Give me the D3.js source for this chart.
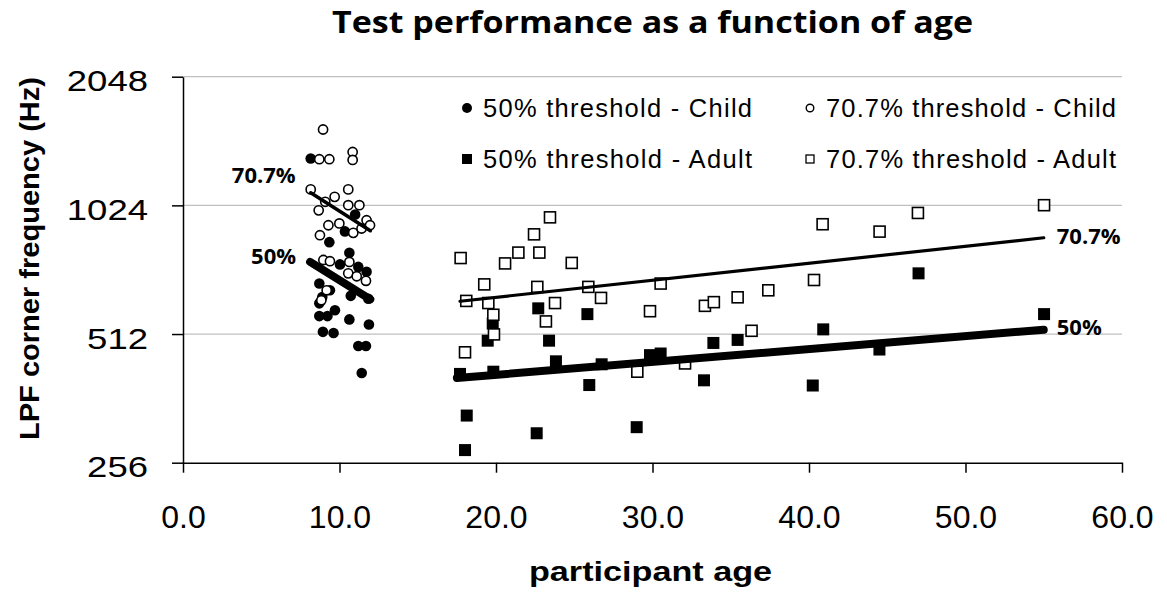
<!DOCTYPE html>
<html>
<head>
<meta charset="utf-8">
<script src="https://cdn.jsdelivr.net/npm/d3@7"></script>
<style>
  body { margin: 0; background: #fff; }
  svg text { fill: #000; }
</style>
</head>
<body>
<div id="chart"></div>
<script>
// data: [age, LPF corner frequency Hz]
const child50 = [
  [8.16,1318],[9.35,840],[10.63,793],[10.03,745],[11.73,716],[8.71,672],[9.39,648],
  [10.72,629],[11.84,619],[8.71,604],[9.71,582],[8.71,564],[9.23,564],[10.63,554],
  [11.88,539],[8.94,518],[9.62,515],[11.2,480],[11.69,480],[11.42,415],[11.0,975],
  [10.35,890],[11.2,735],[8.9,625]
];
const child707 = [
  [8.95,1541],[8.71,1313],[9.35,1313],[10.84,1365],[10.84,1308],[8.16,1116],[10.56,1116],
  [9.69,1072],[9.09,1044],[10.56,1025],[11.27,1025],[8.67,997],[11.73,945],[11.95,920],
  [9.29,920],[9.99,929],[10.88,883],[11.41,904],[8.75,872],[8.97,763],[9.39,758],
  [10.63,755],[10.56,710],[11.1,699],[11.69,682],[9.18,648],[8.84,614]
];
const adult50 = [
  [18.13,330],[18.02,274],[22.6,300],[28.99,310],[25.96,389],[33.29,399],[22.7,588],
  [25.84,570],[19.47,494],[19.79,542],[23.39,494],[23.83,442],[17.7,413],[19.83,418],
  [26.75,435],[29.84,457],[30.52,461],[33.89,488],[35.44,496],[47.0,710],[55.02,570],
  [40.91,525],[44.5,471],[40.24,388]
];
const adult707 = [
  [23.45,960],[22.43,876],[21.43,794],[22.77,794],[20.58,749],[24.84,751],[17.74,771],
  [19.25,669],[22.64,660],[25.9,660],[30.52,672],[18.1,612],[19.51,605],[23.77,605],
  [26.71,622],[19.83,568],[23.19,548],[19.87,511],[18.02,464],[29.84,579],[33.35,596],
  [33.92,608],[35.44,624],[37.4,648],[36.33,521],[29.03,418],[32.08,437],[55.02,1025],
  [46.96,983],[40.87,925],[44.51,889],[40.32,685]
];

// trend line end points
const childFit50 = [[8.12,755],[11.97,617]];
const childFit707 = [[8.16,1096],[11.97,893]];
const adultFit50 = [[17.5,404],[55.0,524]];
const adultFit707 = [[17.7,611],[55.0,860]];

const xTicks = [0,10,20,30,40,50,60];
const yTicks = [256,512,1024,2048];
const legendLabels = ["50% threshold - Child","70.7% threshold - Child","50% threshold - Adult","70.7% threshold - Adult"];

const W = 1167, H = 593;
const svg = d3.select("#chart").append("svg")
  .attr("width", W).attr("height", H);

const x = d3.scaleLinear().domain([0,60]).range([183,1122]);
const y = d3.scaleLog().base(2).domain([256,2048]).range([462.7,76.7]);

// gridlines
svg.selectAll(".grid")
  .data(yTicks.slice(1))
  .join("line")
    .attr("x1", x(0)).attr("x2", x(60))
    .attr("y1", d => y(d)).attr("y2", d => y(d))
    .attr("stroke", "#c0c0c0").attr("stroke-width", 1.3);

// y axis
const yAxis = svg.append("g")
  .attr("transform", `translate(${x(0)},0)`)
  .call(d3.axisLeft(y).tickValues(yTicks).tickFormat(d3.format("d")).tickSize(11).tickSizeOuter(0));
yAxis.select(".domain").attr("stroke", "#000").attr("stroke-width", 1.5);
yAxis.selectAll(".tick line").attr("stroke", "#000").attr("stroke-width", 1.5);
yAxis.selectAll(".tick text")
  .attr("x", -35).attr("dy", null).attr("y", 14)
  .attr("font-family", "'Liberation Sans', Arial, sans-serif")
  .attr("font-size", 30)
  .attr("textLength", d => String(d).length * 20.3)
  .attr("lengthAdjust", "spacingAndGlyphs");

// x axis
const xAxis = svg.append("g")
  .attr("transform", `translate(0,${y(256)})`)
  .call(d3.axisBottom(x).tickValues(xTicks).tickFormat(d3.format(".1f")).tickSize(10).tickSizeOuter(0));
xAxis.select(".domain").attr("stroke", "#000").attr("stroke-width", 1.5);
xAxis.selectAll(".tick line").attr("stroke", "#000").attr("stroke-width", 1.5);
xAxis.selectAll(".tick text")
  .attr("y", 65).attr("dy", null)
  .attr("font-family", "'Liberation Sans', Arial, sans-serif")
  .attr("font-size", 32);

// markers
svg.selectAll(".c50")
  .data(child50)
  .join("circle")
    .attr("class", "c50")
    .attr("cx", d => x(d[0])).attr("cy", d => y(d[1]))
    .attr("r", 5.3).attr("fill", "#000");

svg.selectAll(".c707")
  .data(child707)
  .join("circle")
    .attr("class", "c707")
    .attr("cx", d => x(d[0])).attr("cy", d => y(d[1]))
    .attr("r", 4.6).attr("fill", "#fff")
    .attr("stroke", "#000").attr("stroke-width", 1.6);

svg.selectAll(".a50")
  .data(adult50)
  .join("rect")
    .attr("class", "a50")
    .attr("x", d => x(d[0]) - 6).attr("y", d => y(d[1]) - 6)
    .attr("width", 12).attr("height", 12)
    .attr("fill", "#000");

svg.selectAll(".a707")
  .data(adult707)
  .join("rect")
    .attr("class", "a707")
    .attr("x", d => x(d[0]) - 5.5).attr("y", d => y(d[1]) - 5.5)
    .attr("width", 11).attr("height", 11)
    .attr("fill", "#fff")
    .attr("stroke", "#000").attr("stroke-width", 1.6);

// trend lines
const line = d3.line().x(d => x(d[0])).y(d => y(d[1]));
const fits = [
  {data: childFit707, w: 3.5},
  {data: childFit50, w: 8},
  {data: adultFit707, w: 3.2},
  {data: adultFit50, w: 8}
];
svg.selectAll(".fit")
  .data(fits)
  .join("path")
    .attr("class", "fit")
    .attr("d", d => line(d.data))
    .attr("fill", "none")
    .attr("stroke", "#000")
    .attr("stroke-width", d => d.w)
    .attr("stroke-linecap", "round");

// trend labels
const boldFont = "'Open Sans', 'DejaVu Sans', sans-serif";
const fitLabels = [
  {t: "70.7%", p: childFit707[0], dx: -15, dy: -10, a: "end"},
  {t: "50%", p: childFit50[0], dx: -14, dy: 2, a: "end"},
  {t: "70.7%", p: adultFit707[1], dx: 13, dy: 6, a: "start"},
  {t: "50%", p: adultFit50[1], dx: 13, dy: 5, a: "start"}
];
svg.selectAll(".fitlabel")
  .data(fitLabels)
  .join("text")
    .attr("class", "fitlabel")
    .attr("x", d => x(d.p[0]) + d.dx)
    .attr("y", d => y(d.p[1]) + d.dy)
    .attr("text-anchor", d => d.a)
    .attr("font-family", boldFont)
    .attr("font-weight", 700)
    .attr("font-size", 22)
    .text(d => d.t);

// legend
const legendPos = [[467,108],[810,108],[467,159],[810,159]];
const lg = svg.append("g");
lg.append("circle").attr("cx", legendPos[0][0]).attr("cy", legendPos[0][1]).attr("r", 5).attr("fill", "#000");
lg.append("circle").attr("cx", legendPos[1][0]).attr("cy", legendPos[1][1]).attr("r", 3.8)
  .attr("fill", "#fff").attr("stroke", "#000").attr("stroke-width", 1.4);
lg.append("rect").attr("x", legendPos[2][0] - 5).attr("y", legendPos[2][1] - 5).attr("width", 10).attr("height", 10).attr("fill", "#000");
lg.append("rect").attr("x", legendPos[3][0] - 4).attr("y", legendPos[3][1] - 4).attr("width", 8).attr("height", 8)
  .attr("fill", "#fff").attr("stroke", "#000").attr("stroke-width", 1.3);
lg.selectAll("text")
  .data(legendLabels)
  .join("text")
    .attr("x", (d, i) => legendPos[i][0] + 16)
    .attr("y", (d, i) => legendPos[i][1] + 8.7)
    .attr("font-family", "'Liberation Sans', Arial, sans-serif")
    .attr("font-size", 25.5)
    .attr("textLength", (d, i) => i % 2 ? 290 : 269)
    .attr("lengthAdjust", "spacing")
    .text(d => d);

// title
svg.append("text")
  .attr("x", 652.5).attr("y", 33)
  .attr("text-anchor", "middle")
  .attr("font-family", boldFont)
  .attr("font-weight", 700)
  .attr("font-size", 30)
  .attr("textLength", 641)
  .attr("lengthAdjust", "spacingAndGlyphs")
  .text("Test performance as a function of age");

// axis titles
svg.append("text")
  .attr("x", 650.5).attr("y", 581)
  .attr("text-anchor", "middle")
  .attr("font-family", "'Liberation Sans', Arial, sans-serif")
  .attr("font-weight", 700)
  .attr("font-size", 27)
  .attr("textLength", 243)
  .attr("lengthAdjust", "spacingAndGlyphs")
  .text("participant age");

svg.append("text")
  .attr("transform", "translate(39,258.5) rotate(-90)")
  .attr("text-anchor", "middle")
  .attr("font-family", "'Liberation Sans', Arial, sans-serif")
  .attr("font-weight", 700)
  .attr("font-size", 28)
  .attr("textLength", 363)
  .attr("lengthAdjust", "spacingAndGlyphs")
  .text("LPF corner frequency (Hz)");
</script>
</body>
</html>
